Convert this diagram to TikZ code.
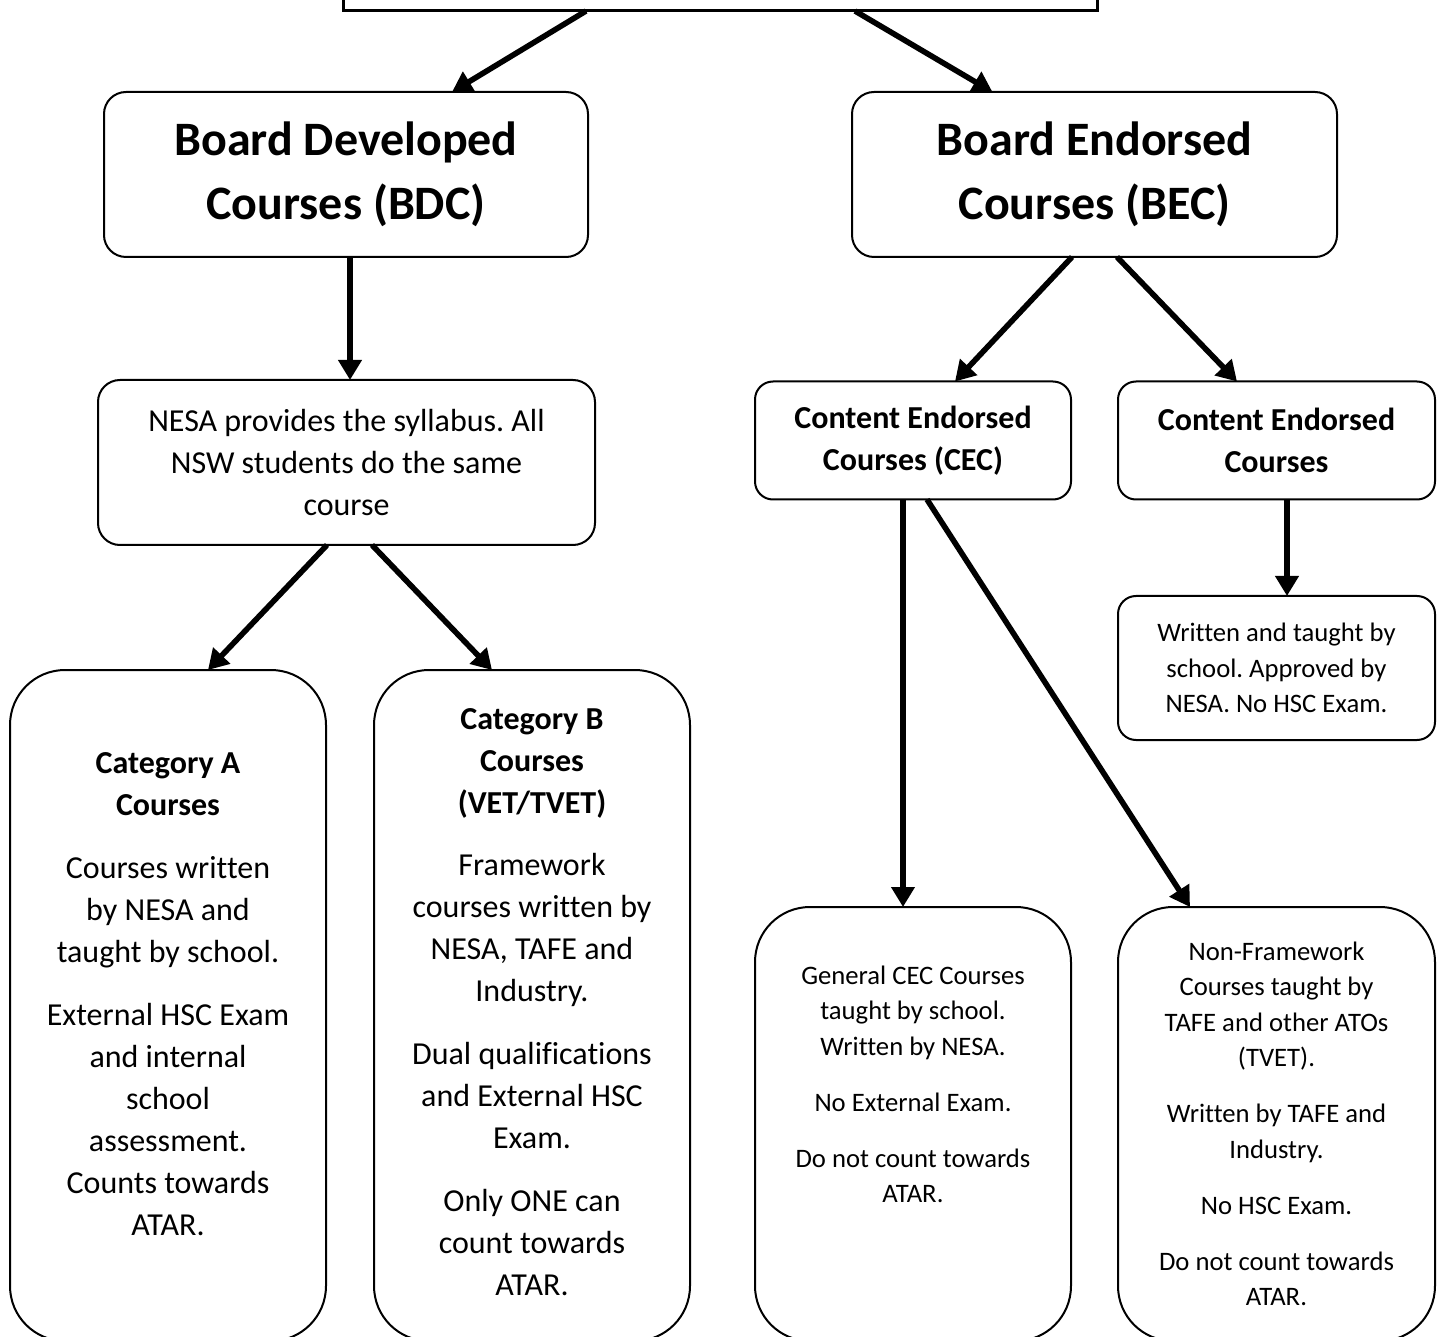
\documentclass[tikz,border=0pt]{standalone}
\usepackage{fontspec}
\setmainfont{Carlito}[Ligatures={NoCommon}]
\frenchspacing
\usetikzlibrary{arrows.meta,calc}
\tikzset{
  boxbase/.style={draw=black, line width=1.5pt, inner sep=0pt, outer sep=0pt, align=center, text=black},
  squarebox/.style={boxbase, line width=2.25pt},
  midbox/.style={boxbase, rounded corners=16.5pt},
  smallbox/.style={boxbase, rounded corners=13.5pt},
  tallbox/.style={boxbase, rounded corners=41.25pt},
  titletext/.style={font=\fontsize{36pt}{48pt}\selectfont\bfseries},
  bodytext/.style={font=\fontsize{24pt}{31.5pt}\selectfont},
  boldbody/.style={font=\fontsize{24pt}{31.5pt}\selectfont\bfseries},
  smalltext/.style={font=\fontsize{20pt}{26.6pt}\selectfont},
  txt/.style={inner sep=0pt, align=center, text=black},
  arr/.style={draw=black, line width=4.2pt, -{Triangle[length=15pt,width=17pt]}}
}
\begin{document}
\frenchspacing
\begin{tikzpicture}[x=0.75pt, y=-0.75pt]
\useasboundingbox (0,0) rectangle (1440,1337);
\fill[white] (0,0) rectangle (1440,1337);
\clip (0,0) rectangle (1440,1337);

% top box (cut off)
\node[squarebox, minimum width=565.5pt, minimum height=83.25pt] (top) at (720,-44.5) {};

% level 1
\node[midbox, titletext, minimum width=363pt, minimum height=123.75pt] (bdc) at (346,174.5) {Board Developed\\Courses (BDC)};
\node[midbox, titletext, minimum width=363.75pt, minimum height=123.75pt] (bec) at (1094.5,174.5) {Board Endorsed\\Courses (BEC)};

% level 2
\node[midbox, bodytext, minimum width=372.75pt, minimum height=123.75pt] (nesa) at (346.5,462.5) {NESA provides the syllabus. All\\NSW students do the same\\course};
\node[smallbox, boldbody, minimum width=237pt, minimum height=88.5pt] (cec) at (913,440.5) {Content Endorsed\\Courses (CEC)};
\node[smallbox, boldbody, minimum width=237.75pt, minimum height=88.5pt] (ce) at (1276.5,440.5) {Content Endorsed\\Courses};
\node[smallbox, smalltext, minimum width=237.75pt, minimum height=108pt] (small) at (1276.5,668) {Written and taught by\\school. Approved by\\NESA. No HSC Exam.};

% tall boxes
\node[tallbox, minimum width=237pt, minimum height=503.25pt] (catA) at (168,1005.5) {};
\node[tallbox, minimum width=237pt, minimum height=503.25pt] (catB) at (532,1005.5) {};
\node[tallbox, minimum width=237pt, minimum height=325.5pt] (gen) at (913,1124) {};
\node[tallbox, minimum width=237.75pt, minimum height=325.5pt] (nfw) at (1276.5,1124) {};

\node[txt, bodytext] (catAtxt) at (168,994.5) {\textbf{Category A}\\\textbf{Courses}\\[15.75pt]Courses written\\by NESA and\\taught by school.\\[15.75pt]External HSC Exam\\and internal\\school\\assessment.\\Counts towards\\ATAR.};
\node[txt, bodytext] (catBtxt) at (532,1002) {\textbf{Category B}\\\textbf{Courses}\\\textbf{(VET/TVET)}\\[14.5pt]Framework\\courses written by\\NESA, TAFE and\\Industry.\\[15.75pt]Dual qualifications\\and External HSC\\Exam.\\[15.75pt]Only ONE can\\count towards\\ATAR.};
\node[txt, smalltext] (gentxt) at (913,1084.5) {General CEC Courses\\taught by school.\\Written by NESA.\\[15.4pt]No External Exam.\\[15.4pt]Do not count towards\\ATAR.};
\node[txt, smalltext] (nfwtxt) at (1276.5,1124) {Non-Framework\\Courses taught by\\TAFE and other ATOs\\(TVET).\\[15.4pt]Written by TAFE and\\Industry.\\[15.4pt]No HSC Exam.\\[15.4pt]Do not count towards\\ATAR.};

% connectors
\draw[arr] ($(top.south)+(-134,0)$) -- ($(bdc.north)+(106,0)$);
\draw[arr] ($(top.south)+(135,0)$) -- ($(bec.north)+(-102,0)$);
\draw[arr] ($(bdc.south)+(4,0)$) -- ($(nesa.north)+(3.5,0)$);
\draw[arr] ($(nesa.south)+(-19.5,0)$) -- ($(catA.north)+(40,0)$);
\draw[arr] ($(nesa.south)+(25.5,0)$) -- ($(catB.north)+(-40,0)$);
\draw[arr] ($(bec.south)+(-22.5,0)$) -- ($(cec.north)+(42,0)$);
\draw[arr] ($(bec.south)+(22.5,0)$) -- ($(ce.north)+(-39.5,0)$);
\draw[arr] ($(ce.south)+(10.5,0)$) -- ($(small.north)+(10.5,0)$);
\draw[arr] ($(cec.south)+(-10,0)$) -- ($(gen.north)+(-10,0)$);
\draw[arr] ($(cec.south)+(14,0)$) -- ($(nfw.north)+(-86.5,0)$);
\end{tikzpicture}
\end{document}
